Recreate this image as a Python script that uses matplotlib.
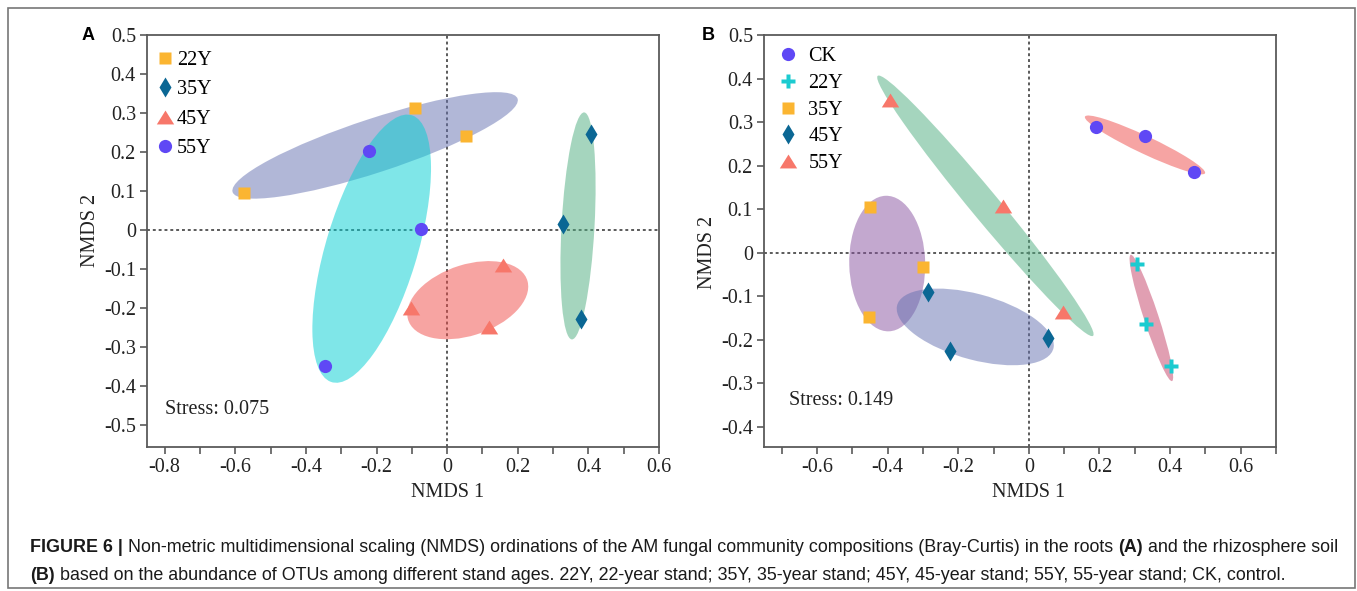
import numpy as np
import matplotlib
matplotlib.use("Agg")
import matplotlib.pyplot as plt
from matplotlib.patches import Ellipse, Rectangle
from matplotlib.ticker import MultipleLocator, FuncFormatter
from matplotlib.lines import Line2D
from matplotlib.transforms import blended_transform_factory

plt.rcParams["font.family"] = ["Liberation Serif", "DejaVu Serif"]
plt.rcParams["axes.unicode_minus"] = False

# ---- panel A: roots ----
a_labels = ["22Y", "35Y", "45Y", "55Y"]
a_x = [[-0.574, -0.092, 0.054],
       [0.407, 0.327, 0.378],
       [0.157, -0.101, 0.119],
       [-0.220, -0.074, -0.347]]
a_y = [[0.096, 0.314, 0.241],
       [0.245, 0.015, -0.228],
       [-0.090, -0.200, -0.249],
       [0.203, 0.003, -0.349]]
a_stress = 0.075

# ---- panel B: rhizosphere soil ----
b_labels = ["CK", "22Y", "35Y", "45Y", "55Y"]
b_x = [[0.190, 0.330, 0.467],
       [0.306, 0.332, 0.403],
       [-0.449, -0.300, -0.454],
       [-0.286, -0.223, 0.054],
       [-0.393, -0.074, 0.098]]
b_y = [[0.289, 0.268, 0.185],
       [-0.026, -0.164, -0.261],
       [0.105, -0.033, -0.148],
       [-0.090, -0.226, -0.197],
       [0.351, 0.107, -0.136]]
b_stress = 0.149

# marker styles per group
tri = [(-1, -0.8), (1, -0.8), (0, 0.8)]
style = {
    "22Y_a": dict(marker="s", color="#FBB531", ms=8.5),
    "35Y_a": dict(marker="d", color="#0B6794", ms=10),
    "45Y_a": dict(marker=tri, color="#F7776A", ms=12.5),
    "55Y_a": dict(marker="o", color="#5F48F5", ms=9.5),
    "CK_b": dict(marker="o", color="#5F48F5", ms=9.5),
    "22Y_b": dict(marker="P", color="#1BCBD0", ms=10.5),
    "35Y_b": dict(marker="s", color="#FBB531", ms=8.5),
    "45Y_b": dict(marker="d", color="#0B6794", ms=10),
    "55Y_b": dict(marker=tri, color="#F7776A", ms=12.5),
}
a_fill = ["#6571B1", "#4DAD7F", "#F14B47", "#01CFD3"]
b_fill = ["#EF4A48", "#C54167", "#8953A0", "#6571B1", "#4DAD7F"]
a_order = [0, 3, 2, 1]
b_order = [0, 1, 2, 3, 4]

K = 1.23  # ellipse scale on the sample standard deviations
FS = 14.5


def group_ellipse(ax, x, y, color):
    x = np.asarray(x)
    y = np.asarray(y)
    cov = np.cov(x, y)
    vals, vecs = np.linalg.eigh(cov)
    ang = np.degrees(np.arctan2(vecs[1, 1], vecs[0, 1]))
    e = Ellipse((x.mean(), y.mean()), 2 * K * np.sqrt(vals[1]), 2 * K * np.sqrt(vals[0]),
                angle=ang, facecolor=color, edgecolor="none", alpha=0.5, zorder=2)
    ax.add_patch(e)


def tick_fmt(v, pos):
    v = round(v, 2)
    if abs(v) < 1e-9:
        return "0"
    return f"{v:g}"


def setup(ax, xlim, ylim, xmaj):
    ax.set_xlim(*xlim)
    ax.set_ylim(*ylim)
    ax.xaxis.set_major_locator(MultipleLocator(xmaj))
    ax.xaxis.set_minor_locator(MultipleLocator(0.1))
    ax.yaxis.set_major_locator(MultipleLocator(0.1))
    ax.xaxis.set_major_formatter(FuncFormatter(tick_fmt))
    ax.yaxis.set_major_formatter(FuncFormatter(tick_fmt))
    for s in ax.spines.values():
        s.set_color("#5a5a5a")
        s.set_linewidth(1.3)
    ax.tick_params(which="both", direction="out", length=5, width=1.2,
                   color="#5a5a5a", labelsize=FS, labelcolor="#222222", pad=3)
    ax.axhline(0, color="#5a5a5a", lw=1.4, ls=(0, (1.5, 1.5)), zorder=1)
    ax.axvline(0, color="#5a5a5a", lw=1.4, ls=(0, (1.5, 1.5)), zorder=1)
    # axis titles sit under / beside the zero lines
    ax.set_xlabel("NMDS 1", fontsize=FS, color="#222222")
    ax.set_ylabel("NMDS 2", fontsize=FS, color="#222222")
    ax.xaxis.set_label_coords(0, -0.088,
                              transform=blended_transform_factory(ax.transData, ax.transAxes))
    ax.yaxis.set_label_coords(-0.092, 0,
                              transform=blended_transform_factory(ax.transAxes, ax.transData))


W, H = 1357, 591
fig = plt.figure(figsize=(W / 100, H / 100), dpi=100)

axA = fig.add_axes([147 / W, 1 - 447 / H, 512 / W, 412 / H])
axB = fig.add_axes([764 / W, 1 - 447 / H, 512 / W, 412 / H])

setup(axA, (-0.85, 0.6), (-0.556, 0.5), 0.2)
setup(axB, (-0.75, 0.7), (-0.447, 0.5), 0.2)

# panel A
for i in a_order:
    group_ellipse(axA, a_x[i], a_y[i], a_fill[i])
handles = []
for i, lab in enumerate(a_labels):
    st = style[lab + "_a"]
    axA.plot(a_x[i], a_y[i], ls="none", marker=st["marker"], ms=st["ms"],
             color=st["color"], mec="none", zorder=3)
    handles.append(Line2D([], [], ls="none", marker=st["marker"], ms=st["ms"],
                          color=st["color"], mec="none", label=lab))
axA.legend(handles=handles, loc="upper left", bbox_to_anchor=(-0.012, 0.99),
           frameon=False, fontsize=FS, handletextpad=0.0, labelspacing=0.5,
           borderaxespad=0.3, handlelength=1.2, borderpad=0.3)
axA.text(0.035, 0.092, f"Stress: {a_stress}", transform=axA.transAxes,
         fontsize=FS, color="#222222", va="center")

# panel B
for i in b_order:
    group_ellipse(axB, b_x[i], b_y[i], b_fill[i])
handles = []
for i, lab in enumerate(b_labels):
    st = style[lab + "_b"]
    axB.plot(b_x[i], b_y[i], ls="none", marker=st["marker"], ms=st["ms"],
             color=st["color"], mec="none", zorder=3)
    handles.append(Line2D([], [], ls="none", marker=st["marker"], ms=st["ms"],
                          color=st["color"], mec="none", label=lab))
axB.legend(handles=handles, loc="upper left", frameon=False, fontsize=FS,
           handletextpad=0.4, labelspacing=0.38, borderaxespad=0.3,
           handlelength=1.2, borderpad=0.3)
axB.text(0.049, 0.112, f"Stress: {b_stress}", transform=axB.transAxes,
         fontsize=FS, color="#222222", va="center")

# panel letters
sans = ["Liberation Sans", "DejaVu Sans"]
fig.text(82 / W, 1 - 35 / H, "A", family=sans, weight="bold", fontsize=13,
         ha="left", va="center")
fig.text(702 / W, 1 - 35 / H, "B", family=sans, weight="bold", fontsize=13,
         ha="left", va="center")

# outer frame
fig.add_artist(Rectangle((8 / W, 3 / H), (1355 - 8) / W, (591 - 3 - 8) / H,
                         transform=fig.transFigure, fill=False,
                         edgecolor="#777777", lw=1.2))

# caption
narrow = ["Liberation Sans Narrow", "Liberation Sans", "DejaVu Sans"]
line1 = [("FIGURE 6 |", "bold"),
         (" Non-metric multidimensional scaling (NMDS) ordinations of the AM fungal "
          "community compositions (Bray-Curtis) in the roots ", "normal"),
         ("(A)", "bold"), (" and the rhizosphere soil", "normal")]
line2 = [("(B)", "bold"),
         (" based on the abundance of OTUs among different stand ages. 22Y, 22-year stand; "
          "35Y, 35-year stand; 45Y, 45-year stand; 55Y, 55-year stand; CK, control.", "normal")]

renderer = fig.canvas.get_renderer()


def draw_line(parts, x0, y, size):
    x = x0
    for txt, wt in parts:
        t = fig.text(x / W, 1 - y / H, txt, family=narrow, weight=wt, fontsize=size,
                     color="#1a1a1a", ha="left", va="center")
        bb = t.get_window_extent(renderer)
        x = bb.x1
    return x - x0


# size the caption so the first line runs across the frame
probe = 10.0
tmp = []
width = 0
for txt, wt in line1:
    t = fig.text(0, 0, txt, family=narrow, weight=wt, fontsize=probe)
    width += t.get_window_extent(renderer).width
    tmp.append(t)
for t in tmp:
    t.remove()
cap_size = probe * (1343 - 30) / width

draw_line(line1, 30, 548, cap_size)
draw_line(line2, 30, 575, cap_size)

fig.savefig("out.png", dpi=100)
